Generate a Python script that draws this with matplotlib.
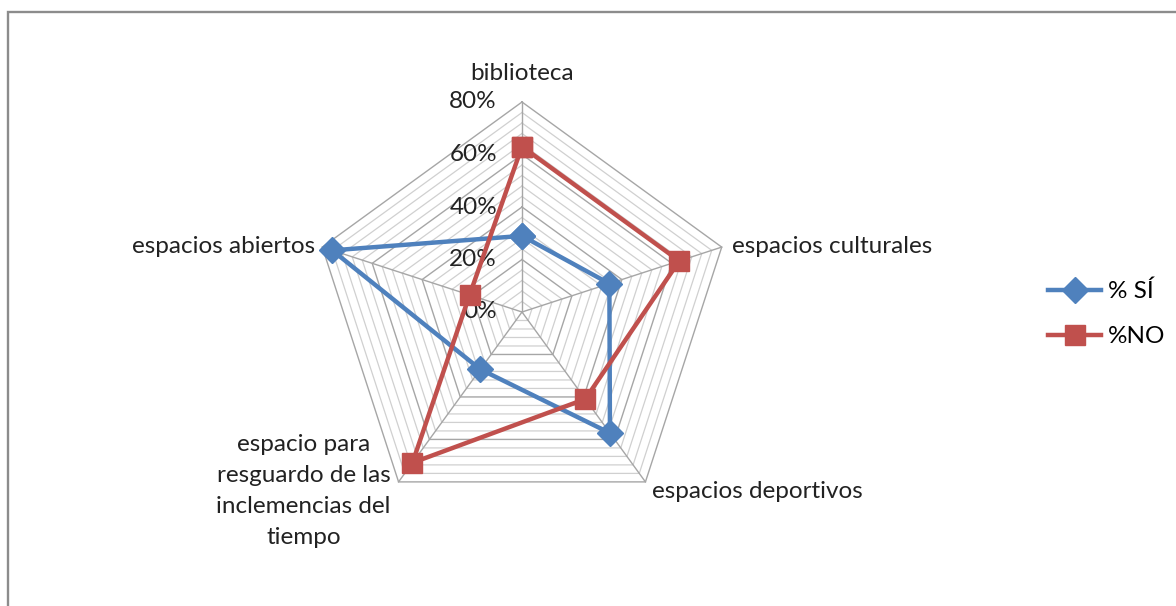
import numpy as np
import matplotlib.pyplot as plt
from matplotlib.patches import Rectangle

# categories and series
categories = ["biblioteca", "espacios culturales", "espacios deportivos",
              "espacio para\nresguardo de las\ninclemencias del\ntiempo",
              "espacios abiertos"]
pct_si = [0.29, 0.35, 0.57, 0.27, 0.76]
pct_no = [0.63, 0.63, 0.41, 0.71, 0.21]
series_names = ["% SÍ", "%NO"]
r_ticks = [0.0, 0.2, 0.4, 0.6, 0.8]
r_tick_labels = ["0%", "20%", "40%", "60%", "80%"]

BLUE = "#4F81BD"
RED = "#C0504D"
FONT = "Lato"
FS = 17.5

plt.rcParams["font.family"] = [FONT, "DejaVu Sans"]

W, H = 1176, 606
fig = plt.figure(figsize=(W / 100, H / 100), dpi=100)
fig.patch.set_facecolor("white")

cx, cy, rad = 522, 312, 210
ax = fig.add_axes([(cx - rad) / W, (H - cy - rad) / H, 2 * rad / W, 2 * rad / H],
                  projection="polar")
ax.set_theta_offset(np.pi / 2)
ax.set_theta_direction(-1)
ax.set_ylim(0, 0.8)
ax.set_xticks([])
ax.set_yticks([])
ax.grid(False)
ax.spines["polar"].set_visible(False)
ax.patch.set_visible(False)

n = len(categories)
theta = np.arange(n) * 2 * np.pi / n
theta_c = np.append(theta, theta[0])

# pentagon rings: minor every 4%, major every 20%
for r in np.arange(0.04, 0.8001, 0.04):
    major = abs(r / 0.2 - round(r / 0.2)) < 1e-6
    ax.plot(theta_c, [r] * (n + 1), color="#a6a6a6" if major else "#d0d0d0",
            lw=1.0 if major else 0.9, zorder=1, clip_on=False)
for t in theta:
    ax.plot([t, t], [0, 0.8], color="#a6a6a6", lw=1.0, zorder=1, clip_on=False)

def closed(v):
    return list(v) + [v[0]]

l1, = ax.plot(theta_c, closed(pct_si), color=BLUE, lw=3.2, marker="D",
              markersize=13, zorder=3, clip_on=False, label=series_names[0])
l2, = ax.plot(theta_c, closed(pct_no), color=RED, lw=3.2, marker="s",
              markersize=14, zorder=4, clip_on=False, label=series_names[1])

# radial tick labels
for r, lab in zip(r_ticks, r_tick_labels):
    ax.annotate(lab, xy=(0, r), xytext=(-25, 0), textcoords="offset pixels",
                ha="right", va="center", fontsize=FS, color="#222222")

# category labels
offsets = [(0, 28, "center"), (10, 1, "left"), (7, -10, "left"),
           (-95, -9, "center"), (-7, 1, "right")]
for t, lab, (dx, dy, ha) in zip(theta, categories, offsets):
    ax.annotate(lab, xy=(t, 0.8), xytext=(dx, dy), textcoords="offset pixels",
                ha=ha, va="center", multialignment="center", fontsize=FS,
                color="#222222", linespacing=1.6, annotation_clip=False)

fig.legend(handles=[l1, l2], loc="center left",
           bbox_to_anchor=(1048 / W, (H - 314) / H), frameon=False,
           fontsize=FS, handlelength=2.2, handletextpad=0.25,
           labelspacing=1.0, borderpad=0, borderaxespad=0)

fig.add_artist(Rectangle((8 / W, -0.1), 1.2, (H - 12) / H + 0.1,
                         transform=fig.transFigure, fill=False,
                         edgecolor="#8c8c8c", lw=1.7))

fig.savefig("out.png", dpi=100)
